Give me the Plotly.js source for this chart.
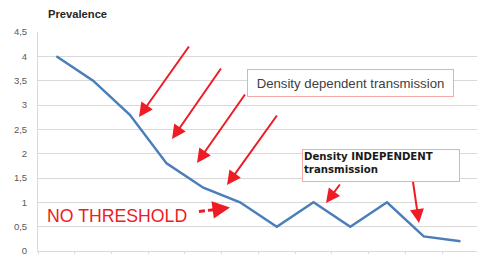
<!DOCTYPE html>
<html>
<head>
<meta charset="utf-8">
<script src="https://cdn.plot.ly/plotly-3.0.1.min.js"></script>
<style>html,body{margin:0;padding:0;background:#fff;}#chart{width:477px;height:254px;}</style>
</head>
<body>
<div id="chart"></div>
<script>
// Data
var periods = ['1','2','3','4','5','6','7','8','9','10','11','12'];
var prevalence = [4, 3.5, 2.8, 1.8, 1.3, 1.0, 0.5, 1.0, 0.5, 1.0, 0.3, 0.2];
var yTicks = [0, 0.5, 1, 1.5, 2, 2.5, 3, 3.5, 4, 4.5];

// plot geometry (pixels) used to place annotations
var W = 477, H = 254, ML = 38, MR = 0, MT = 32, MB = 3;
var PW = W - ML - MR, PH = H - MT - MB;
function px(x){ return (x - ML) / PW; }
function py(y){ return (H - MB - y) / PH; }

var red = '#ee1c24';
function arrow(hx, hy, tx, ty, w){
  return {xref:'paper', yref:'paper', x:px(hx), y:py(hy), axref:'pixel', ayref:'pixel',
          ax:tx-hx, ay:ty-hy, text:'', showarrow:true, arrowhead:2, arrowsize:1.4,
          arrowwidth:w || 2, arrowcolor:red, standoff:0, startstandoff:0};
}

var trace = {
  x: periods, y: prevalence, type:'scatter', mode:'lines',
  line:{color:'#4a7ebb', width:2.5}, hoverinfo:'skip'
};

var annotations = [
  arrow(139,117,190,45),
  arrow(172,139,222,67),
  arrow(197,163,246,93),
  arrow(227,185,278,114),
  arrow(326,203,341,183),
  arrow(419,223,412,175),
  arrow(230,207.5,219,209, 2.5),
  {xref:'paper', yref:'paper', x:px(247), y:py(69), xanchor:'left', yanchor:'top',
   text:'Density dependent transmission', showarrow:false, width:205, height:26,
   align:'center', valign:'middle', bgcolor:'#ffffff', bordercolor:'#f4a8aa', borderwidth:1, borderpad:0,
   font:{family:'Liberation Sans, Arial, sans-serif', size:13.2, color:'#404040'}},
  {xref:'paper', yref:'paper', x:px(302), y:py(149), xanchor:'left', yanchor:'top',
   text:'<b>Density INDEPENDENT<br>transmission</b>', showarrow:false, width:154, height:29,
   align:'left', valign:'top', bgcolor:'#ffffff', bordercolor:'#f4a8aa', borderwidth:1, borderpad:1,
   font:{family:'DejaVu Sans, Verdana, sans-serif', size:10.2, color:'#1a1a1a'}},
  {xref:'paper', yref:'paper', x:px(45), y:py(215.5), xanchor:'left', yanchor:'middle',
   text:'NO THRESHOLD', showarrow:false,
   font:{family:'Liberation Sans, Arial, sans-serif', size:17.7, color:red}}
];

var shapes = [
  {type:'line', xref:'paper', yref:'paper', x0:px(199), y0:py(211.5), x1:px(219), y1:py(209),
   line:{color:red, width:3, dash:'6px,3px'}}
];

var layout = {
  width:W, height:H,
  margin:{l:ML, r:MR, t:MT, b:MB, pad:0},
  paper_bgcolor:'#ffffff', plot_bgcolor:'#ffffff',
  separators:', ',
  showlegend:false,
  title:{text:'<b>Prevalence</b>', xref:'container', yref:'container', x:48/W, xanchor:'left',
         y:1-14/H, yanchor:'middle',
         font:{family:'Liberation Sans, Arial, sans-serif', size:11.2, color:'#262626'}},
  xaxis:{type:'category', categoryarray:periods, range:[-0.5, 11.45], showticklabels:false,
         showgrid:false, zeroline:false, showline:true, linecolor:'#d9d9d9', linewidth:1,
         ticks:'outside', tickson:'boundaries', ticklen:4, tickcolor:'#d9d9d9', fixedrange:true},
  yaxis:{range:[0,4.5], tickvals:yTicks, showgrid:true, gridcolor:'#d9d9d9', gridwidth:1,
         zeroline:false, showline:true, linecolor:'#d9d9d9', linewidth:1, ticks:'',
         ticklabelstandoff:8, ticklabeloverflow:'allow',
         tickfont:{family:'Liberation Sans, Arial, sans-serif', size:9.5, color:'#595959'}, fixedrange:true},
  annotations:annotations,
  shapes:shapes
};

Plotly.newPlot('chart', [trace], layout, {staticPlot:true, displayModeBar:false});
</script>
</body>
</html>
